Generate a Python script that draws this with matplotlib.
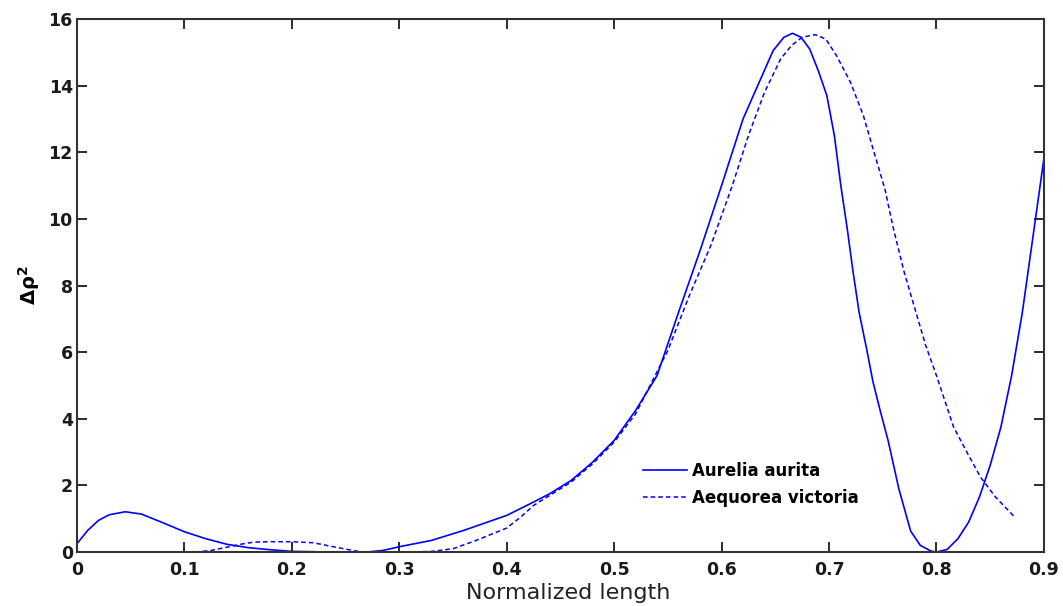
import matplotlib.pyplot as plt
import numpy as np

plt.rcParams['font.family'] = ['DejaVu Sans']

# Aurelia aurita (heltrukken)
x_aurelia = [0, 0.01, 0.02, 0.03, 0.045, 0.06, 0.08, 0.10, 0.12, 0.14, 0.16, 0.18,
             0.20, 0.24, 0.27, 0.285, 0.30, 0.33, 0.36, 0.40, 0.42, 0.44, 0.46, 0.48,
             0.50, 0.52, 0.54, 0.56, 0.58, 0.60, 0.62, 0.635, 0.648, 0.658, 0.666,
             0.674, 0.682, 0.69, 0.698, 0.705, 0.711, 0.717, 0.722, 0.728, 0.735,
             0.741, 0.748, 0.755, 0.765, 0.776, 0.785, 0.795, 0.80, 0.81, 0.82, 0.83,
             0.84, 0.85, 0.86, 0.87, 0.88, 0.89, 0.90]
y_aurelia = [0.25, 0.65, 0.95, 1.12, 1.21, 1.14, 0.88, 0.61, 0.40, 0.23, 0.13, 0.07,
             0.02, 0.0, 0.0, 0.05, 0.16, 0.35, 0.65, 1.10, 1.42, 1.75, 2.15, 2.70,
             3.35, 4.25, 5.30, 7.20, 9.05, 11.0, 13.0, 14.1, 15.05, 15.45, 15.57,
             15.45, 15.1, 14.45, 13.7, 12.5, 11.0, 9.7, 8.5, 7.2, 6.1,
             5.1, 4.2, 3.35, 1.9, 0.63, 0.2, 0.03, 0.0, 0.08, 0.4, 0.9,
             1.65, 2.6, 3.75, 5.3, 7.2, 9.5, 11.8]

# Aequorea victoria (stiplet)
x_aequorea = [0.11, 0.125, 0.14, 0.155, 0.165, 0.18, 0.20, 0.22, 0.24, 0.255, 0.265,
              0.28, 0.31, 0.33, 0.35, 0.37, 0.40, 0.413, 0.425, 0.44, 0.46, 0.48,
              0.50, 0.52, 0.55, 0.57, 0.59, 0.61, 0.625, 0.64, 0.655, 0.665, 0.675,
              0.687, 0.697, 0.707, 0.72, 0.732, 0.741, 0.752, 0.76, 0.77, 0.78,
              0.79, 0.80, 0.816, 0.83, 0.841, 0.855, 0.872]
y_aequorea = [0.0, 0.05, 0.15, 0.25, 0.30, 0.31, 0.31, 0.28, 0.15, 0.06, 0.0,
              0.0, 0.0, 0.02, 0.10, 0.33, 0.72, 1.05, 1.40, 1.70, 2.10, 2.65,
              3.30, 4.15, 6.05, 7.70, 9.20, 11.0, 12.5, 13.8, 14.8, 15.2, 15.45,
              15.53, 15.4, 14.9, 14.1, 13.1, 12.1, 10.9, 9.7, 8.4, 7.3,
              6.2, 5.3, 3.75, 2.9, 2.25, 1.65, 1.08]

xticks = np.arange(0, 0.91, 0.1)
xticklabels = ['0', '0.1', '0.2', '0.3', '0.4', '0.5', '0.6', '0.7', '0.8', '0.9']
yticks = np.arange(0, 17, 2)

fig = plt.figure(figsize=(10.63, 6.06), dpi=100)
ax = fig.add_axes([0.0724, 0.089, 0.9096, 0.8797])

ax.plot(x_aurelia, y_aurelia, color='#0000ff', lw=1.2, label='Aurelia aurita')
ax.plot(x_aequorea, y_aequorea, color='#0000ff', lw=1.1, dashes=(3, 2),
        label='Aequorea victoria')

ax.set_xlim(0, 0.9)
ax.set_ylim(0, 16)
ax.set_xticks(xticks)
ax.set_xticklabels(xticklabels)
ax.set_yticks(yticks)
ax.tick_params(direction='in', length=7, width=1.3, top=True, right=True,
               labelsize=12.5, colors='#1a1a1a')
ax.tick_params(axis='x', pad=6.5)
ax.tick_params(axis='y', pad=3)
for lab in ax.get_xticklabels() + ax.get_yticklabels():
    lab.set_fontweight('bold')
for sp in ax.spines.values():
    sp.set_linewidth(1.5)
    sp.set_color('#333333')

ax.set_xlabel('Normalized length', fontsize=16, labelpad=2, color='#222222')
ax.xaxis.set_label_coords(0.508, -0.058)
ax.set_ylabel(r'$\mathbf{\Delta\rho^2}$', fontsize=14)
ax.yaxis.set_label_coords(-0.036, 0.5)

ax.legend(loc='upper left', bbox_to_anchor=(0.57, 0.197), frameon=False,
          handlelength=2.65, handletextpad=0.3, labelspacing=0.55,
          prop={'weight': 'bold', 'size': 12})

plt.savefig('out.png', dpi=100)
